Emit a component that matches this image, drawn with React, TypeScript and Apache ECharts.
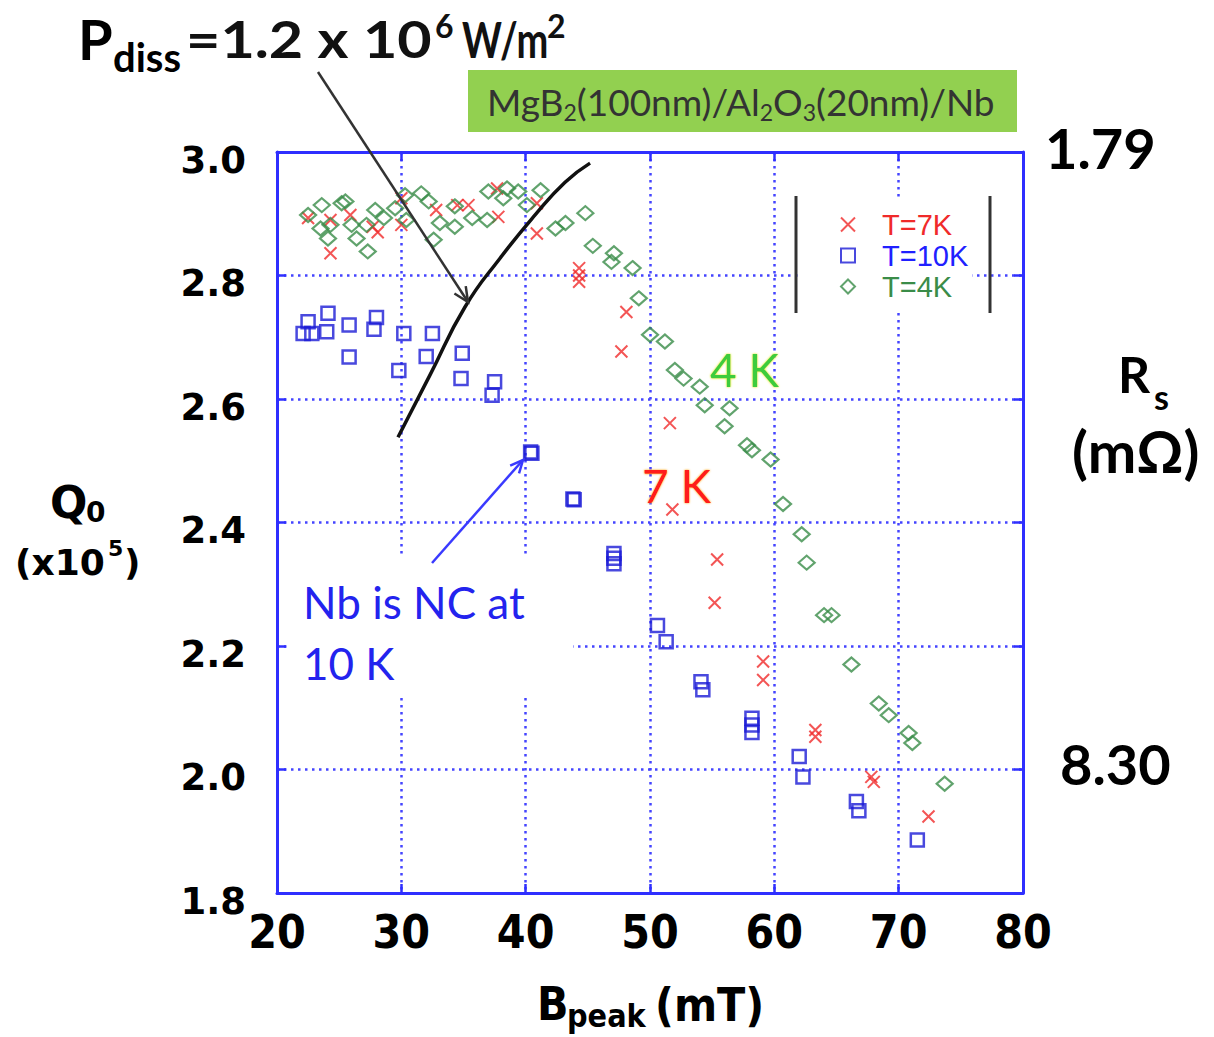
import React, { useEffect, useRef } from "react";
import * as echarts from "echarts";

// ---------- data (B_peak in mT, Q0 in units of 1e5) ----------
const xMin = 20;
const xMax = 80;
const xStep = 10;
const yMin = 1.8;
const yMax = 3.0;
const yStep = 0.2;

const seriesNames = ["T=7K", "T=10K", "T=4K"];

const t7K: [number, number][] = [
  [22.5, 2.893], [24.3, 2.89], [25.9, 2.898], [24.3, 2.836], [27.7, 2.879],
  [28.1, 2.87], [30.0, 2.925], [30.0, 2.882], [32.8, 2.906], [34.5, 2.914],
  [35.4, 2.914], [37.7, 2.941], [37.8, 2.895], [40.9, 2.917], [40.9, 2.868],
  [44.3, 2.812], [44.3, 2.8], [44.3, 2.79], [48.1, 2.741], [47.7, 2.677],
  [51.6, 2.561], [51.8, 2.421], [55.4, 2.34], [55.2, 2.27], [59.1, 2.175],
  [59.1, 2.145], [63.3, 2.064], [63.3, 2.053], [67.8, 1.988], [68.0, 1.98],
  [72.4, 1.924],
];

const t10K: [number, number][] = [
  [22.1, 2.706], [22.8, 2.706], [22.5, 2.725], [24.1, 2.739], [24.0, 2.709],
  [25.8, 2.72], [25.8, 2.668], [28.0, 2.732], [27.8, 2.713], [29.8, 2.646],
  [30.2, 2.706], [32.5, 2.706], [32.0, 2.669], [34.9, 2.674], [34.8, 2.633],
  [37.5, 2.628], [37.3, 2.606], [40.4, 2.514], [40.5, 2.512], [43.8, 2.438],
  [43.9, 2.437], [47.1, 2.35], [47.1, 2.342], [47.1, 2.333], [50.6, 2.233],
  [51.3, 2.207], [54.1, 2.142], [54.25, 2.129], [58.2, 2.083], [58.2, 2.072],
  [58.2, 2.06], [62.0, 2.021], [62.3, 1.988], [66.6, 1.948], [66.8, 1.933],
  [71.5, 1.886],
];

const t4K: [number, number][] = [
  [22.5, 2.898], [23.6, 2.914], [23.5, 2.876], [24.3, 2.882], [24.1, 2.86],
  [25.2, 2.917], [25.5, 2.92], [26.0, 2.882], [26.4, 2.86], [27.3, 2.839],
  [27.9, 2.906], [27.2, 2.882], [28.6, 2.893], [29.5, 2.909], [30.3, 2.93],
  [30.4, 2.89], [31.6, 2.933], [32.2, 2.92], [32.6, 2.858], [33.1, 2.885],
  [34.3, 2.912], [34.3, 2.879], [35.7, 2.893], [36.9, 2.89], [37.0, 2.936],
  [38.2, 2.925], [38.5, 2.941], [39.4, 2.936], [40.1, 2.914], [41.2, 2.938],
  [42.4, 2.876], [43.2, 2.885], [44.8, 2.901], [45.4, 2.848], [47.1, 2.836],
  [46.9, 2.822], [48.6, 2.812], [49.1, 2.763], [50.0, 2.704], [51.2, 2.693],
  [52.0, 2.647], [52.7, 2.633], [54.0, 2.62], [54.4, 2.59], [56.4, 2.585],
  [56.0, 2.556], [57.8, 2.525], [58.2, 2.517], [59.7, 2.502], [60.7, 2.43],
  [62.2, 2.381], [62.6, 2.335], [64.0, 2.25], [64.6, 2.25], [66.2, 2.17],
  [68.4, 2.107], [69.2, 2.088], [70.8, 2.059], [71.1, 2.043], [73.7, 1.977],
];

// constant dissipated power curve P_diss = 1.2e6 W/m^2
const pdissCurve: [number, number][] = [
  [29.73, 2.538], [32.31, 2.639], [35.12, 2.749], [37.94, 2.828],
  [40.76, 2.898], [43.17, 2.951], [45.18, 2.982],
];

const rsLabels = ["1.79", "8.30"];

// ---------- styles ----------
const AXIS_BLUE = "#2f2fff";
const GRID_BLUE = "#4444ff";
const RED = "#f02a2a";
const BLUE = "#1c1cd6";
const GREEN = "#3a8c48";
const NARROW = "'Liberation Sans Narrow', 'DejaVu Sans Condensed', 'Roboto', sans-serif";
const HEAVY = "'DejaVu Sans', Verdana, sans-serif";
const CAL = "Lato, 'Open Sans', sans-serif";

const crossPath = "path://M0,0L12,12M12,0L0,12";
const squarePath = "path://M0,0H12V12H0Z";
const diamondPath = "path://M7,0L14,7L7,14L0,7Z";

function txt(text: string, x: number, y: number, size: number, weight: string, family: string, fill: string, extra: any = {}, scaleX = 1) {
  return {
    type: "text",
    x,
    y,
    scaleX,
    z: 6,
    style: {
      text,
      fontSize: size,
      fontWeight: weight,
      fontFamily: family,
      fill,
      align: "left",
      verticalAlign: "middle",
      ...extra,
    },
  };
}

function arrow(x1: number, y1: number, x2: number, y2: number, color: string, w: number, head: number) {
  const dx = x2 - x1;
  const dy = y2 - y1;
  const len = Math.sqrt(dx * dx + dy * dy);
  const bx = -dx / len;
  const by = -dy / len;
  const a = (25 * Math.PI) / 180;
  const c = Math.cos(a);
  const s = Math.sin(a);
  const p1 = [x2 + head * (bx * c - by * s), y2 + head * (bx * s + by * c)];
  const p2 = [x2 + head * (bx * c + by * s), y2 + head * (-bx * s + by * c)];
  return [
    { type: "line", z: 6, shape: { x1, y1, x2, y2 }, style: { stroke: color, lineWidth: w } },
    { type: "polyline", z: 6, shape: { points: [p1, [x2, y2], p2] }, style: { stroke: color, lineWidth: w, fill: null } },
  ];
}

export default function App() {
  const ref = useRef<HTMLDivElement>(null);

  useEffect(() => {
    if (!ref.current) return;
    const chart = echarts.init(ref.current, null, { renderer: "svg" });

    const baseX = {
      type: "value",
      min: xMin,
      max: xMax,
      interval: xStep,
      axisLine: { show: true, onZero: false, lineStyle: { color: AXIS_BLUE, width: 3 } },
      axisTick: { show: true, inside: true, length: 9, lineStyle: { color: AXIS_BLUE, width: 2.5 } },
    };
    const baseY = {
      type: "value",
      min: yMin,
      max: yMax,
      interval: yStep,
      axisLine: { show: true, onZero: false, lineStyle: { color: AXIS_BLUE, width: 3 } },
      axisTick: { show: true, inside: true, length: 9, lineStyle: { color: AXIS_BLUE, width: 2.5 } },
    };
    const dots = { show: true, lineStyle: { color: GRID_BLUE, width: 2.5, type: [2.5, 4.5] } };

    const option: any = {
      animation: false,
      backgroundColor: "#ffffff",
      grid: { left: 277, top: 152, right: 191, bottom: 144, containLabel: false },
      xAxis: [
        {
          ...baseX,
          position: "bottom",
          splitLine: dots,
          axisLabel: {
            margin: 16,
            color: "#000",
            fontSize: 46,
            fontWeight: "bold",
            fontFamily: NARROW,
            lineHeight: 46,
          },
        },
        { ...baseX, position: "top", splitLine: { show: false }, axisLabel: { show: false } },
      ],
      yAxis: [
        {
          ...baseY,
          position: "left",
          splitLine: dots,
          axisLabel: {
            margin: 31,
            formatter: (v: number) => "{v|" + v.toFixed(1) + "}",
            rich: {
              v: {
                color: "#000",
                fontSize: 37,
                fontWeight: "bold",
                fontFamily: HEAVY,
                padding: [16, 0, 0, 0],
              },
            },
          },
        },
        { ...baseY, position: "right", splitLine: { show: false }, axisLabel: { show: false } },
      ],
      legend: {
        show: true,
        orient: "vertical",
        left: 800,
        top: 198,
        padding: [12, 4, 12, 40],
        backgroundColor: "#ffffff",
        itemWidth: 58,
        itemHeight: 14,
        itemGap: 2,
        selectedMode: false,
        textStyle: { fontSize: 29, fontFamily: "'Liberation Sans', Arial, sans-serif", lineHeight: 29 },
        data: [
          { name: seriesNames[0], icon: crossPath, textStyle: { color: RED } },
          { name: seriesNames[1], icon: squarePath, textStyle: { color: "#2020ff" } },
          { name: seriesNames[2], icon: diamondPath, textStyle: { color: GREEN } },
        ],
      },
      series: [
        {
          name: seriesNames[0],
          type: "scatter",
          data: t7K,
          symbol: crossPath,
          symbolSize: 12,
          itemStyle: { color: "transparent", borderColor: RED, borderWidth: 2 },
          z: 3,
        },
        {
          name: seriesNames[1],
          type: "scatter",
          data: t10K,
          symbol: "rect",
          symbolSize: 13,
          itemStyle: { color: "transparent", borderColor: BLUE, borderWidth: 2.5 },
          z: 3,
        },
        {
          name: seriesNames[2],
          type: "scatter",
          data: t4K,
          symbol: "diamond",
          symbolSize: [16, 14],
          itemStyle: { color: "transparent", borderColor: GREEN, borderWidth: 2.2 },
          z: 3,
        },
        {
          name: "Pdiss",
          type: "line",
          data: pdissCurve,
          smooth: 0.5,
          symbol: "none",
          lineStyle: { color: "#111", width: 3.5 },
          z: 4,
        },
      ],
      graphic: {
        elements: [
          // white patch under "Nb is NC at 10 K"
          { type: "rect", z: 1, shape: { x: 287, y: 557, width: 286, height: 140 }, style: { fill: "#ffffff" } },
          // legend bars
          { type: "line", z: 6, shape: { x1: 796, y1: 196, x2: 796, y2: 313 }, style: { stroke: "#333", lineWidth: 3 } },
          { type: "line", z: 6, shape: { x1: 990, y1: 196, x2: 990, y2: 313 }, style: { stroke: "#333", lineWidth: 3 } },
          // green label box
          { type: "rect", z: 5, shape: { x: 468, y: 70, width: 549, height: 62 }, style: { fill: "#92d050" } },
          {
            type: "text",
            x: 487,
            y: 101,
            z: 6,
            style: {
              text: "{a|MgB}{s|2}{a|(100nm)/Al}{s|2}{a|O}{s|3}{a|(20nm)/Nb}",
              align: "left",
              verticalAlign: "middle",
              rich: {
                a: { fontSize: 37, fontFamily: CAL, fill: "#333", lineHeight: 44, verticalAlign: "middle" },
                s: { fontSize: 23, fontFamily: CAL, fill: "#333", lineHeight: 23, verticalAlign: "bottom" },
              },
            },
          },
          // P_diss annotation
          txt("P", 78, 38, 56, "bold", CAL, "#000"),
          txt("diss", 113, 57, 40, "bold", CAL, "#000"),
          txt("=1.2 x 10", 186, 38, 52, "bold", CAL, "#111", {}, 1.14),
          txt("6", 435, 25, 32, "bold", CAL, "#111"),
          txt("W/m", 462, 38, 50, "bold", CAL, "#111", {}, 0.76),
          txt("2", 547, 25, 32, "bold", CAL, "#111"),
          ...arrow(318, 72, 468, 302, "#333", 2.5, 16),
          // Nb annotation
          txt("Nb is NC at", 303, 602, 44, "normal", CAL, "#2323ee"),
          txt("10 K", 303, 663, 44, "normal", CAL, "#2323ee"),
          ...arrow(432, 563, 523, 460, "#3a3aff", 2.5, 14),
          // temperature labels
          txt("4 K", 710, 369, 46, "normal", CAL, "#3ccc3c", { textShadowColor: "#e8e800", textShadowBlur: 2 }),
          txt("7 K", 642, 485, 46, "normal", CAL, "#ff1a1a", { textShadowColor: "#ffa000", textShadowBlur: 2 }),
          // right side Rs labels
          txt(rsLabels[0], 1045, 147, 56, "bold", CAL, "#000"),
          txt(rsLabels[1], 1060, 763, 56, "bold", CAL, "#000"),
          txt("R", 1118, 374, 50, "bold", CAL, "#000"),
          txt("s", 1154, 396, 34, "bold", CAL, "#000"),
          txt("(m\u03A9)", 1072, 450, 58, "bold", CAL, "#000"),
          // Y axis title
          txt("Q", 50, 502, 44, "bold", HEAVY, "#000"),
          txt("0", 86, 512, 28, "bold", HEAVY, "#000"),
          txt("(x10", 15, 562, 36, "bold", HEAVY, "#000"),
          txt("5", 108, 548, 22, "bold", HEAVY, "#000"),
          txt(")", 124, 562, 36, "bold", HEAVY, "#000"),
          // X axis title
          txt("B", 537, 1004, 46, "bold", NARROW, "#000"),
          txt("peak", 567, 1016, 32, "bold", NARROW, "#000"),
          txt("(mT)", 655, 1005, 46, "bold", NARROW, "#000"),
        ],
      },
    };

    chart.setOption(option);
    return () => chart.dispose();
  }, []);

  return (
    <div
      ref={ref}
      style={{ position: "absolute", left: 0, top: 0, width: 1214, height: 1037, background: "#fff" }}
    />
  );
}
